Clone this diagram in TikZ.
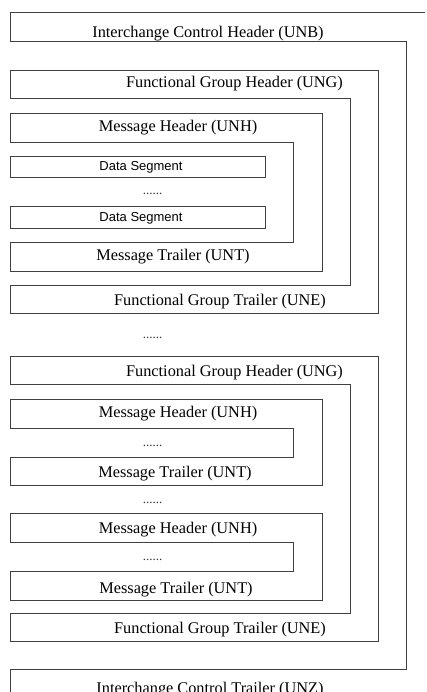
\documentclass[tikz,border=0pt]{standalone}
\usepackage{fontspec}
\setmainfont{Liberation Serif}
\newfontfamily\arialf{Liberation Sans}
\tikzset{
  frameline/.style={draw=black!75,line width=0.9pt,line join=miter},
  lbl/.style={anchor=base,inner sep=0pt,font=\fontsize{16.3}{18}\selectfont,text=black},
  seglbl/.style={anchor=base,inner sep=0pt,font=\arialf\fontsize{13}{15}\selectfont,text=black},
  dotlbl/.style={anchor=base,inner sep=0pt,font=\fontsize{13}{15}\selectfont,text=black!80},
}
% frame: top, header bottom, inner right, outer right, trailer top, bottom
\newcommand\edfframe[6]{%
  \draw[frameline] (10,#2) -- (10,#1) -- (#4,#1) -- (#4,#6) -- (10,#6) -- (10,#5)
    -- (#3,#5) -- (#3,#2) -- cycle;}
\begin{document}
\begin{tikzpicture}[x=1pt,y=-1pt]
\useasboundingbox (0,0) rectangle (427,692);
\clip (0,0) rectangle (427,692);
\fill[white] (0,0) rectangle (427,692);
% interchange
\draw[frameline] (10,41.5) -- (10,12.5) -- (425,12.5);
\draw[frameline] (10,41.5) -- (406,41.5) -- (406,669) -- (10,669) -- (10,700);
\node[lbl] (unb) at (208,37.5) {Interchange Control Header (UNB)};
\node[lbl] (unz) at (210,693) {Interchange Control Trailer (UNZ)};
% group 1
\edfframe{70}{98}{350}{378}{285.5}{313.5}
\node[lbl] (ung1) at (234.5,87.3) {Functional Group Header (UNG)};
\node[lbl] (une1) at (220,305) {Functional Group Trailer (UNE)};
% message 1
\edfframe{113}{142}{293}{322}{242}{271}
\node[lbl] (unh1) at (178,131.7) {Message Header (UNH)};
\node[lbl] (unt1) at (173,260) {Message Trailer (UNT)};
\draw[frameline] (10,156) rectangle (265,177.5);
\node[seglbl] (ds1) at (141,171) {Data Segment};
\node[dotlbl] (d1) at (152.5,195) {......};
\draw[frameline] (10,206) rectangle (265,228);
\node[seglbl] (ds2) at (141,221.5) {Data Segment};
% dots between groups
\node[dotlbl] (d2) at (152.5,338.3) {......};
% group 2
\edfframe{356}{384.5}{350}{378}{613}{641.5}
\node[lbl] (ung2) at (234.5,376) {Functional Group Header (UNG)};
\node[lbl] (une2) at (220,633.5) {Functional Group Trailer (UNE)};
% message 2
\edfframe{399.5}{428}{293}{322}{457}{485}
\node[lbl] (unh2) at (178,417.5) {Message Header (UNH)};
\node[dotlbl] (d3) at (152.5,446.7) {......};
\node[lbl] (unt2) at (175,477) {Message Trailer (UNT)};
\node[dotlbl] (d4) at (152.5,503.3) {......};
% message 3
\edfframe{513.5}{542.5}{293}{322}{571.5}{600}
\node[lbl] (unh3) at (178,533.5) {Message Header (UNH)};
\node[dotlbl] (d5) at (152.5,560) {......};
\node[lbl] (unt3) at (176,593.5) {Message Trailer (UNT)};
\end{tikzpicture}
\end{document}
